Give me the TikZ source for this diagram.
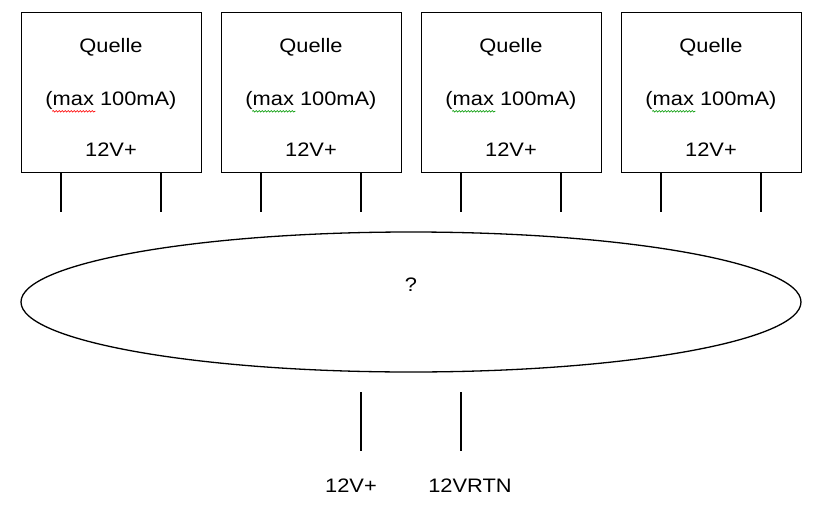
\documentclass[tikz,border=0pt]{standalone}
\usepackage{fontspec}
\setmainfont{Liberation Sans}
\usetikzlibrary{decorations.pathmorphing,shapes.geometric}
\newcommand{\wtxt}[1]{\scalebox{1.12}[1]{#1}}
\begin{document}
\begin{tikzpicture}[x=1pt,y=-1pt,
  src/.style={draw, line width=1.3pt, minimum width=180pt, minimum height=160pt, anchor=north west, inner sep=0pt},
  wire/.style={line width=1.3pt},
  lbl/.style={font=\fontsize{19.5}{22}\selectfont, inner sep=0pt},
  spell/.style={line width=0.6pt, decorate, decoration={snake, amplitude=0.8pt, segment length=3pt}}]
\useasboundingbox[fill=white] (0,0) rectangle (822,506);
\foreach \i/\x/\c in {1/21/red, 2/221/green!60!black, 3/421/green!60!black, 4/621/green!60!black}{
  \node[src] (b\i) at (\x,12) {};
  \node[lbl] (q\i) at (\x+90,47) {\wtxt{Quelle}};
  \node[lbl] (m\i) at (\x+90,100) {\wtxt{(max 100mA)}};
  \node[lbl] (v\i) at (\x+90,150) {\wtxt{12V+}};
  \coordinate (la\i) at (\x+40,172);
  \coordinate (lb\i) at (\x+140,172);
  \coordinate (ea\i) at (\x+40,212);
  \coordinate (eb\i) at (\x+140,212);
  \draw[wire] (la\i) -- (ea\i);
  \draw[wire] (lb\i) -- (eb\i);
  \draw[spell, \c] ([xshift=7pt,yshift=-2pt]m\i.south west) -- ++(43,0);
}
\node[draw, line width=1.3pt, ellipse, minimum width=780pt, minimum height=140pt, inner sep=0pt] (ell) at (411,302) {};
\node[lbl] (qm) at (411,285) {\wtxt{?}};
\coordinate (pa) at (361,392);
\coordinate (pb) at (461,392);
\coordinate (qa) at (361,451);
\coordinate (qb) at (461,451);
\draw[wire] (pa) -- (qa);
\draw[wire] (pb) -- (qb);
\node[lbl] (o1) at (351,486) {\wtxt{12V+}};
\node[lbl] (o2) at (470,486) {\wtxt{12VRTN}};
\end{tikzpicture}
\end{document}
